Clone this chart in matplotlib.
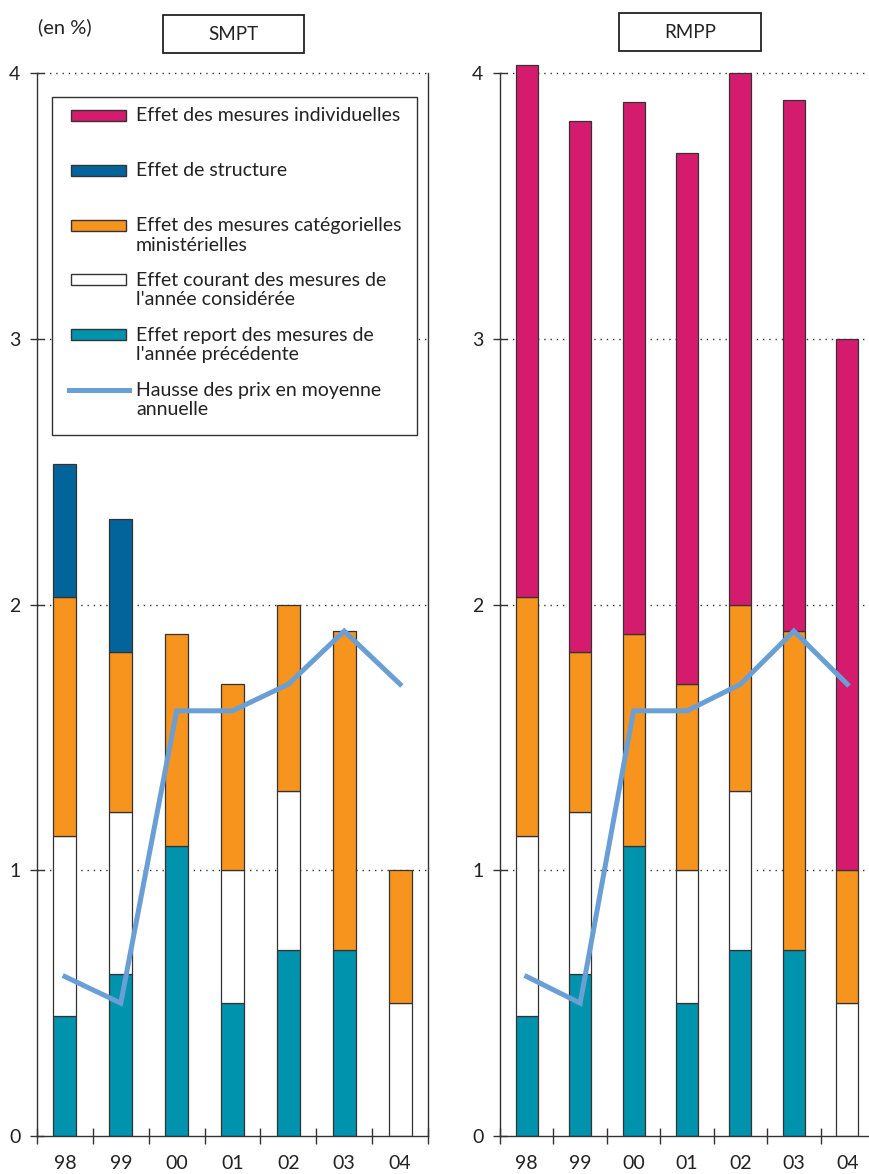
import numpy as np
import matplotlib
matplotlib.use('Agg')
import matplotlib.pyplot as plt
from matplotlib.patches import Rectangle
from matplotlib.lines import Line2D

plt.rcParams['font.family'] = ['Lato', 'DejaVu Sans']

# donnees (en %)
annees = ['98', '99', '00', '01', '02', '03', '04']
report = [0.45, 0.61, 1.09, 0.50, 0.70, 0.70, 0.00]
courant = [0.68, 0.61, 0.00, 0.50, 0.60, 0.00, 0.50]
categorielles = [0.90, 0.60, 0.80, 0.70, 0.70, 1.20, 0.50]
structure_smpt = [0.50, 0.50, 0.00, 0.00, 0.00, 0.00, 0.00]
individuelles_rmpp = [2.00, 2.00, 2.00, 2.00, 2.00, 2.00, 2.00]
prix = [0.6, 0.5, 1.6, 1.6, 1.7, 1.9, 1.7]

C_IND = '#D51B6E'
C_STR = '#03649B'
C_CAT = '#F7941E'
C_COU = '#FFFFFF'
C_REP = '#0093AD'
C_PRIX = '#6A9FD6'
EDGE = '#333333'
TXT = '#222222'

W, H = 869, 1174
fig = plt.figure(figsize=(W / 100, H / 100), dpi=100)


def fx(px):
    return px / W


def fy(py):
    return 1 - py / H


YMAX = 4.05
PX_UNIT = (1136 - 73) / 4.0


def panneau(left_px, right_px, series):
    bottom_frac = fy(1136)
    height_frac = YMAX * PX_UNIT / H
    ax = fig.add_axes([fx(left_px), bottom_frac, fx(right_px) - fx(left_px), height_frac])
    x = np.arange(len(annees))
    base = np.zeros(len(annees))
    for vals, color in series:
        vals = np.array(vals)
        m = vals > 0
        ax.bar(x[m], vals[m], width=0.41, bottom=base[m], color=color,
               edgecolor=EDGE, linewidth=0.9, zorder=2)
        base = base + vals
    ax.plot(x, prix, color=C_PRIX, lw=3.6, zorder=3, solid_joinstyle='miter')

    for y in [1, 2, 3, 4]:
        ax.axhline(y, color=EDGE, lw=1.0, ls=(0, (1, 3.5)), zorder=1)

    ax.set_xlim(-0.5, len(annees) - 0.5)
    ax.set_ylim(0, YMAX)
    ax.set_yticks([0, 1, 2, 3, 4])
    ax.set_yticklabels(['0', '1', '2', '3', '4'])
    ax.tick_params(axis='y', direction='inout', length=10, width=1, pad=7,
                   labelsize=14, color=EDGE, labelcolor=TXT)
    ax.set_xticks(x)
    ax.set_xticklabels(annees)
    ax.tick_params(axis='x', which='major', length=0, pad=14, labelsize=14,
                   labelcolor=TXT)
    ax.set_xticks(np.arange(-0.5, len(annees), 1), minor=True)
    ax.tick_params(axis='x', which='minor', direction='inout', length=11,
                   width=1, color=EDGE)
    ax.spines['top'].set_visible(False)
    for s in ['left', 'right']:
        ax.spines[s].set_bounds(0, 4)
    for s in ['left', 'right', 'bottom']:
        ax.spines[s].set_color(EDGE)
        ax.spines[s].set_linewidth(1)
    return ax


ax1 = panneau(37, 428, [(report, C_REP), (courant, C_COU),
                        (categorielles, C_CAT), (structure_smpt, C_STR)])
ax2 = panneau(500, 874, [(report, C_REP), (courant, C_COU),
                         (categorielles, C_CAT), (individuelles_rmpp, C_IND)])

# titres encadres
fig.text(fx(38), fy(27), '(en %)', fontsize=14.5, color=TXT, ha='left', va='center')
for (x0, x1, y0, y1, nom) in [(163, 304, 15, 53, 'SMPT'), (619, 761, 13, 51, 'RMPP')]:
    fig.add_artist(Rectangle((fx(x0), fy(y1)), fx(x1) - fx(x0), (y1 - y0) / H,
                             transform=fig.transFigure, fill=False, ec=TXT, lw=1.3))
    fig.text(fx((x0 + x1) / 2), fy((y0 + y1) / 2), nom, fontsize=13.5, color=TXT,
             ha='center', va='center')

# legende
fig.add_artist(Rectangle((fx(52), fy(435)), fx(417) - fx(52), (435 - 97) / H,
                         transform=fig.transFigure, fc='white', ec=EDGE, lw=1.0,
                         zorder=5))
legende = [
    ('Effet des mesures individuelles', C_IND),
    ('Effet de structure', C_STR),
    ('Effet des mesures catégorielles\nministérielles', C_CAT),
    ("Effet courant des mesures de\nl'année considérée", C_COU),
    ("Effet report des mesures de\nl'année précédente", C_REP),
    ('Hausse des prix en moyenne\nannuelle', None),
]
for i, (lab, col) in enumerate(legende):
    base = 121 + 54.8 * i
    if col is None:
        fig.add_artist(Line2D([fx(69), fx(129)], [fy(base - 5), fy(base - 5)],
                              transform=fig.transFigure, color=C_PRIX, lw=3.6,
                              zorder=6))
    else:
        fig.add_artist(Rectangle((fx(71), fy(base)), fx(126) - fx(71), 11 / H,
                                 transform=fig.transFigure, fc=col, ec=EDGE,
                                 lw=1.0, zorder=6))
    # va='baseline' cale la derniere ligne, on decale donc les libelles sur 2 lignes
    y_txt = base + 20 * lab.count('\n')
    fig.text(fx(136), fy(y_txt), lab, fontsize=14, color=TXT, ha='left',
             va='baseline', linespacing=1.15, zorder=6)

fig.savefig('out.png', dpi=100)
